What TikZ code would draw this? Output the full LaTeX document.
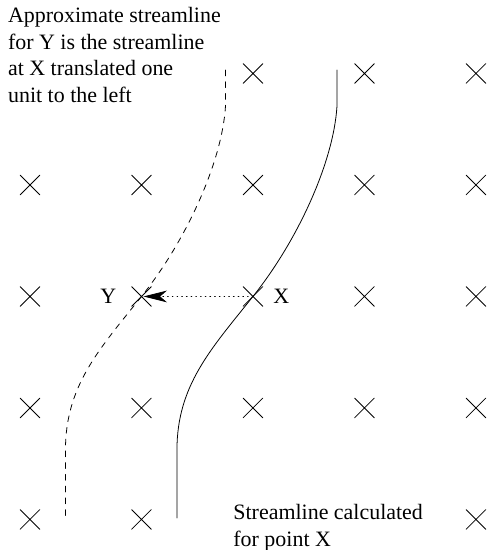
\documentclass[tikz,border=0pt]{standalone}
\usepackage{fontspec}
\setmainfont{Liberation Serif}
\usetikzlibrary{arrows.meta}
\usetikzlibrary{positioning}
\usetikzlibrary{shapes.misc}

\tikzset{
  gridpt/.style={cross out, draw, inner sep=0pt, minimum size=0.34cm},
  lbl/.style={inner sep=0pt, font=\fontsize{11.2}{13.7}\selectfont},
  note/.style={lbl, align=left}
}

\begin{document}
\begin{tikzpicture}[x=2cm, y=2cm, line cap=round, line join=round]

  % frame of the picture
  \useasboundingbox (-0.269,-0.274) rectangle (4.108,4.659);

  % the grid points (two spots are left free for the notes)
  \foreach \i in {0,...,4} {
    \foreach \j in {0,...,4} {
      \ifnum\j=4 \ifnum\i<2 \else
        \node[gridpt] (c-\i-\j) at (\i,\j) {};
      \fi
      \else\ifnum\j=0 \ifnum\i=2 \else\ifnum\i=3 \else
        \node[gridpt] (c-\i-\j) at (\i,\j) {};
      \fi\fi
      \else
        \node[gridpt] (c-\i-\j) at (\i,\j) {};
      \fi\fi
    }
  }

  % labels of the two points
  \node[lbl, left=0.27cm of c-1-2] (ylbl) {Y};
  \node[lbl, right=0.18cm of c-2-2] (xlbl) {X};

  % streamline through X
  \draw (2.753,4.031) -- (2.753,3.70)
    .. controls (2.72,3.2) and (2.4,2.5) .. (2,2)
    .. controls (1.62,1.525) and (1.318,1.2) .. (1.318,0.62)
    -- (1.318,0.013);

  % the same streamline moved one unit left
  \draw[dashed] (1.753,4.031) -- (1.753,3.70)
    .. controls (1.72,3.2) and (1.4,2.5) .. (1,2)
    .. controls (0.62,1.525) and (0.318,1.2) .. (0.318,0.62)
    -- (0.318,0.013);

  % shift from X to Y
  \draw[dotted, -{Stealth[length=12pt, width=6pt, inset=3.5pt]}, shorten >=1pt]
    (c-2-2.center) -- (c-1-2.center);

  % notes
  \node[note, anchor=north west] (topnote) at (-0.2,4.60)
    {Approximate streamline\\for Y is the streamline\\at X translated one\\unit to the left};
  \node[note, anchor=north west] (botnote) at (1.821,0.136)
    {Streamline calculated\\for point X};

\end{tikzpicture}
\end{document}
